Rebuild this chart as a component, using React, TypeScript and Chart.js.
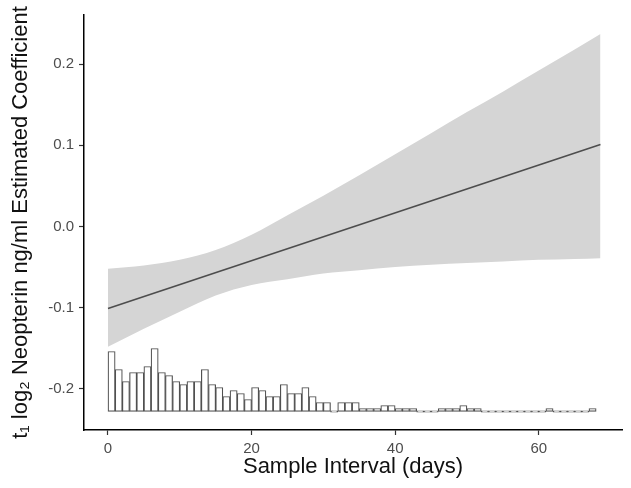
import { useEffect, useRef } from 'react';
import { Chart, registerables } from 'chart.js';
import type { ChartConfiguration } from 'chart.js';

Chart.register(...registerables);

const bandDays = [0, 5, 10, 15, 20, 25, 30, 35, 40, 45, 50, 55, 60, 65, 68.6];
const bandUpper = [-0.052, -0.048, -0.041, -0.029, -0.01, 0.014, 0.038, 0.063, 0.089, 0.115, 0.141, 0.166, 0.192, 0.218, 0.237];
const bandLower = [-0.148, -0.126, -0.105, -0.085, -0.072, -0.065, -0.058, -0.054, -0.05, -0.047, -0.045, -0.043, -0.041, -0.04, -0.039];

// fitted line end points
const fitDays = [0, 68.6];
const fitCoef = [-0.101, 0.101];

// histogram of sample intervals, 1-day bins starting at 0
const histCounts = [
  20, 14, 10, 13, 13, 15, 21, 13, 12, 10,
  9, 10, 10, 14, 9, 8, 5, 7, 6, 4,
  8, 7, 5, 5, 9, 6, 6, 8, 5, 3,
  3, 0, 3, 3, 3, 1, 1, 1, 2, 2,
  1, 1, 1, 0, 0, 0, 1, 1, 1, 2,
  1, 1, 0, 0, 0, 0, 0, 0, 0, 0,
  0, 1, 0, 0, 0, 0, 0, 1,
];

const xTicks = [0, 20, 40, 60];
const yTicks = [-0.2, -0.1, 0, 0.1, 0.2];

const FONT = '"Liberation Sans", Arial, Helvetica, sans-serif';

export default function App() {
  const canvasRef = useRef<HTMLCanvasElement>(null);

  useEffect(() => {
    const canvas = canvasRef.current;
    if (!canvas) return;

    const config: ChartConfiguration = {
      type: 'line',
      data: {
        datasets: [
          {
            type: 'line',
            data: bandDays.map((d, i) => ({ x: d, y: bandUpper[i] })),
            borderWidth: 0,
            pointRadius: 0,
            backgroundColor: '#d5d5d5',
            fill: '+1',
            cubicInterpolationMode: 'monotone',
            order: 3,
          },
          {
            type: 'line',
            data: bandDays.map((d, i) => ({ x: d, y: bandLower[i] })),
            borderWidth: 0,
            pointRadius: 0,
            fill: false,
            cubicInterpolationMode: 'monotone',
            order: 3,
          },
          {
            type: 'line',
            data: fitDays.map((d, i) => ({ x: d, y: fitCoef[i] })),
            borderColor: '#4d4d4d',
            borderWidth: 1.6,
            pointRadius: 0,
            fill: false,
            order: 1,
          },
          {
            type: 'bar',
            data: histCounts.map((c, i) => ({ x: i + 0.5, y: c })),
            yAxisID: 'y2',
            backgroundColor: '#ffffff',
            borderColor: '#505050',
            borderWidth: 1.2,
            borderSkipped: false,
            barPercentage: 1,
            categoryPercentage: 1,
            minBarLength: 1.5,
            order: 2,
          },
        ],
      },
      options: {
        animation: false,
        responsive: true,
        maintainAspectRatio: false,
        layout: { padding: { left: 0, top: 15, right: 9, bottom: 0 } },
        plugins: {
          legend: { display: false },
          tooltip: { enabled: false },
        },
        scales: {
          x: {
            type: 'linear',
            offset: false,
            min: -3.34,
            max: 71.6,
            afterBuildTicks: (s) => {
              s.ticks = xTicks.map((v) => ({ value: v }));
            },
            afterFit: (s) => {
              s.height = 58;
            },
            border: { display: true, color: '#000000', width: 1.5 },
            grid: {
              offset: false,
              drawOnChartArea: false,
              tickLength: 5,
              tickColor: '#333333',
              tickWidth: 1.2,
            },
            ticks: {
              padding: 5,
              color: '#4d4d4d',
              font: { family: FONT, size: 15 },
              maxRotation: 0,
            },
            title: {
              display: true,
              text: 'Sample Interval (days)',
              color: '#111111',
              font: { family: FONT, size: 22 },
              padding: { top: 0, bottom: 8 },
            },
          },
          y: {
            type: 'linear',
            min: -0.2506,
            max: 0.2605,
            afterBuildTicks: (s) => {
              s.ticks = yTicks.map((v) => ({ value: v }));
            },
            afterFit: (s) => {
              s.width = 84;
            },
            border: { display: true, color: '#000000', width: 1.5 },
            grid: {
              drawOnChartArea: false,
              tickLength: 5,
              tickColor: '#333333',
              tickWidth: 1.2,
            },
            ticks: {
              padding: 5,
              color: '#4d4d4d',
              font: { family: FONT, size: 15 },
              callback: (v) => Number(v).toFixed(1),
            },
            title: {
              display: true,
              text: 't\u2081 log\u2082 Neopterin ng/ml Estimated Coefficient',
              color: '#111111',
              font: { family: FONT, size: 22 },
              padding: { top: 8, bottom: 0 },
            },
          },
          y2: {
            type: 'linear',
            display: false,
            position: 'right',
            min: -6.17,
            max: 132.17,
          },
        },
      },
    };

    const chart = new Chart(canvas, config);
    return () => chart.destroy();
  }, []);

  return (
    <div style={{ position: 'absolute', left: 0, top: 0, width: 631, height: 488, background: '#ffffff' }}>
      <canvas ref={canvasRef} />
    </div>
  );
}
